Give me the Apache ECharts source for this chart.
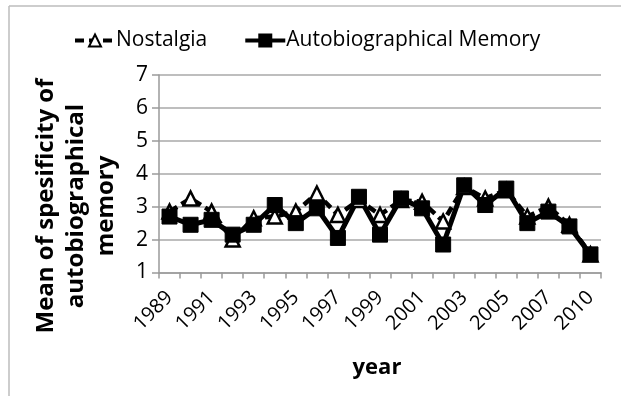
<!DOCTYPE html>
<html>
<head>
<meta charset="utf-8">
<script src="https://cdn.jsdelivr.net/npm/echarts@6/dist/echarts.min.js"></script>
<style>
html,body{margin:0;padding:0;background:#fff;}
#chart{width:621px;height:396px;}
</style>
</head>
<body>
<div id="chart"></div>
<script>
var years = ['1989','1990','1991','1992','1993','1994','1995','1996','1997','1998','1999','2000','2001','2002','2003','2004','2005','2006','2007','2008','2010'];
var nostalgia = [2.85, 3.25, 2.85, 2.0, 2.65, 2.7, 2.85, 3.4, 2.75, 3.2, 2.75, 3.2, 3.15, 2.55, 3.6, 3.25, 3.5, 2.7, 3.0, 2.45, 1.55];
var autobio = [2.7, 2.45, 2.6, 2.15, 2.45, 3.05, 2.5, 2.95, 2.05, 3.3, 2.15, 3.25, 2.95, 1.85, 3.65, 3.05, 3.55, 2.5, 2.85, 2.4, 1.55];
var yTicks = [1, 2, 3, 4, 5, 6, 7];

var FONT = '"Open Sans", "DejaVu Sans", sans-serif';
var chart = echarts.init(document.getElementById('chart'), null, {renderer: 'canvas'});
chart.setOption({
  animation: false,
  backgroundColor: '#fff',
  textStyle: {fontFamily: FONT},
  legend: {
    top: 25,
    left: 68,
    itemGap: 36,
    itemWidth: 40,
    itemHeight: 15,
    lineStyle: {width: 4},
    textStyle: {fontSize: 21, color: '#000', fontFamily: FONT, padding: [0, 0, 0, -4]},
    data: ['Nostalgia', 'Autobiographical Memory']
  },
  grid: {left: 159, right: 20, top: 75, bottom: 123.5, containLabel: false},
  xAxis: {
    type: 'category',
    data: years,
    boundaryGap: true,
    axisLine: {lineStyle: {color: '#9a9a9a', width: 1.5}},
    axisTick: {show: true, interval: 0, length: 6, lineStyle: {color: '#9a9a9a', width: 1.5}},
    axisLabel: {interval: 1, rotate: 45, fontSize: 20, color: '#000', margin: 22, fontFamily: FONT},
    splitLine: {show: false}
  },
  yAxis: {
    type: 'value',
    min: yTicks[0],
    max: yTicks[yTicks.length - 1],
    interval: 1,
    axisLine: {show: true, lineStyle: {color: '#9a9a9a', width: 1.5}},
    axisTick: {show: true, length: 7, lineStyle: {color: '#9a9a9a', width: 1.5}},
    axisLabel: {fontSize: 21, color: '#000', margin: 11, fontFamily: FONT},
    splitLine: {show: true, lineStyle: {color: '#a8a8a8', width: 1.5}}
  },
  graphic: [
    {type: 'line', shape: {x1: 9, y1: 6, x2: 621, y2: 6}, style: {stroke: '#bdbdbd', lineWidth: 1.5}},
    {type: 'line', shape: {x1: 9, y1: 6, x2: 9, y2: 396}, style: {stroke: '#bdbdbd', lineWidth: 1.5}},
    {type: 'text', x: 377, y: 368, style: {text: 'year', font: 'bold 22px ' + FONT, fill: '#000', textAlign: 'center', textVerticalAlign: 'middle'}},
    {type: 'text', x: 76, y: 206, rotation: Math.PI / 2,
      style: {text: 'Mean of spesificity of\nautobiographical\nmemory', font: 'bold 24px ' + FONT, lineHeight: 30, fill: '#000', textAlign: 'center', textVerticalAlign: 'middle'}}
  ],
  series: [
    {
      name: 'Nostalgia',
      type: 'line',
      data: nostalgia,
      showAllSymbol: true,
      symbol: 'triangle',
      symbolSize: 14,
      lineStyle: {color: '#000', width: 4.5, type: [9, 5]},
      itemStyle: {color: '#fff', borderColor: '#000', borderWidth: 2.5}
    },
    {
      name: 'Autobiographical Memory',
      type: 'line',
      data: autobio,
      showAllSymbol: true,
      symbol: 'rect',
      symbolSize: 15,
      lineStyle: {color: '#000', width: 5},
      itemStyle: {color: '#000', borderColor: '#000', borderWidth: 1}
    }
  ]
});
</script>
</body>
</html>
